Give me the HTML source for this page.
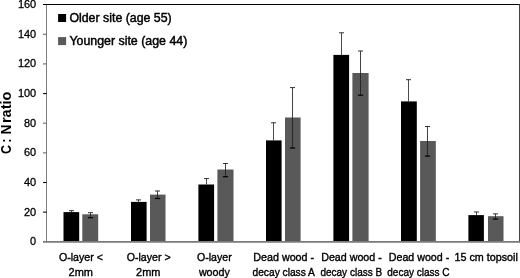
<!DOCTYPE html>
<html><head><meta charset="utf-8"><title>C : N ratio</title>
<style>
html,body{margin:0;padding:0;background:#fff;}
body{width:520px;height:278px;overflow:hidden;}
svg{display:block;font-family:"Liberation Sans",sans-serif;}
</style></head><body>
<svg width="520" height="278" viewBox="0 0 520 278">
<rect x="0" y="0" width="520" height="278" fill="#fff"/>

<rect x="63.5" y="212.1" width="15.7" height="29.7" fill="#000"/>
<rect x="82.3" y="214.3" width="15.9" height="27.5" fill="#595959"/>
<path d="M71.50 212.1 V210.5" stroke="#2b2b2b" stroke-width="0.85" fill="none"/><path d="M69.00 210.7 H74.00" stroke="#333" stroke-width="1" fill="none"/>
<path d="M90.50 217.7 V212.5" stroke="#202020" stroke-width="0.85" fill="none"/><path d="M88.00 212.7 H93.00" stroke="#333" stroke-width="1" fill="none"/><path d="M87.90 217.7 H93.10" stroke="#000" stroke-width="1.2" fill="none"/>
<rect x="131.0" y="201.9" width="15.6" height="39.9" fill="#000"/>
<rect x="150.0" y="194.6" width="15.5" height="47.2" fill="#595959"/>
<path d="M138.50 201.9 V199.7" stroke="#2b2b2b" stroke-width="0.85" fill="none"/><path d="M136.00 199.9 H141.00" stroke="#333" stroke-width="1" fill="none"/>
<path d="M157.50 198.5 V190.8" stroke="#202020" stroke-width="0.85" fill="none"/><path d="M155.00 191.0 H160.00" stroke="#333" stroke-width="1" fill="none"/><path d="M154.90 198.5 H160.10" stroke="#000" stroke-width="1.2" fill="none"/>
<rect x="198.4" y="184.5" width="15.7" height="57.3" fill="#000"/>
<rect x="217.4" y="169.5" width="16.1" height="72.3" fill="#595959"/>
<path d="M206.50 184.5 V178.4" stroke="#2b2b2b" stroke-width="0.85" fill="none"/><path d="M204.00 178.6 H209.00" stroke="#333" stroke-width="1" fill="none"/>
<path d="M225.50 176.7 V163.3" stroke="#202020" stroke-width="0.85" fill="none"/><path d="M223.00 163.5 H228.00" stroke="#333" stroke-width="1" fill="none"/><path d="M222.90 176.7 H228.10" stroke="#000" stroke-width="1.2" fill="none"/>
<rect x="266.0" y="140.4" width="15.6" height="101.4" fill="#000"/>
<rect x="285.0" y="117.5" width="15.6" height="124.3" fill="#595959"/>
<path d="M273.50 140.4 V122.6" stroke="#2b2b2b" stroke-width="0.85" fill="none"/><path d="M271.00 122.8 H276.00" stroke="#333" stroke-width="1" fill="none"/>
<path d="M292.50 148.0 V87.4" stroke="#202020" stroke-width="0.85" fill="none"/><path d="M290.00 87.6 H295.00" stroke="#333" stroke-width="1" fill="none"/><path d="M289.90 148.0 H295.10" stroke="#000" stroke-width="1.2" fill="none"/>
<rect x="333.4" y="54.9" width="15.7" height="186.9" fill="#000"/>
<rect x="352.4" y="73.0" width="16.2" height="168.8" fill="#595959"/>
<path d="M341.50 54.9 V32.6" stroke="#2b2b2b" stroke-width="0.85" fill="none"/><path d="M339.00 32.8 H344.00" stroke="#333" stroke-width="1" fill="none"/>
<path d="M360.50 95.2 V50.8" stroke="#202020" stroke-width="0.85" fill="none"/><path d="M358.00 51.0 H363.00" stroke="#333" stroke-width="1" fill="none"/><path d="M357.90 95.2 H363.10" stroke="#000" stroke-width="1.2" fill="none"/>
<rect x="401.0" y="101.4" width="15.8" height="140.4" fill="#000"/>
<rect x="420.1" y="141.0" width="15.7" height="100.8" fill="#595959"/>
<path d="M408.50 101.4 V79.5" stroke="#2b2b2b" stroke-width="0.85" fill="none"/><path d="M406.00 79.7 H411.00" stroke="#333" stroke-width="1" fill="none"/>
<path d="M427.50 156.1 V126.3" stroke="#202020" stroke-width="0.85" fill="none"/><path d="M425.00 126.5 H430.00" stroke="#333" stroke-width="1" fill="none"/><path d="M424.90 156.1 H430.10" stroke="#000" stroke-width="1.2" fill="none"/>
<rect x="468.4" y="215.1" width="15.5" height="26.7" fill="#000"/>
<rect x="488.0" y="216.2" width="15.5" height="25.6" fill="#595959"/>
<path d="M476.50 215.1 V211.8" stroke="#2b2b2b" stroke-width="0.85" fill="none"/><path d="M474.00 212.0 H479.00" stroke="#333" stroke-width="1" fill="none"/>
<path d="M495.50 219.1 V213.7" stroke="#202020" stroke-width="0.85" fill="none"/><path d="M493.00 213.9 H498.00" stroke="#333" stroke-width="1" fill="none"/><path d="M492.90 219.1 H498.10" stroke="#000" stroke-width="1.2" fill="none"/>
<path d="M43 4.5 H520" stroke="#000" stroke-width="1.1" fill="none"/>
<path d="M519.6 4 V242.5" stroke="#3a3a3a" stroke-width="1.1" fill="none"/>
<path d="M46.5 5 V241.8" stroke="#808080" stroke-width="1" fill="none"/>
<path d="M43 241.8 H520" stroke="#7a7a7a" stroke-width="1.7" fill="none"/>
<path d="M43 212.15 H46.9" stroke="#111" stroke-width="1.1" fill="none"/>
<path d="M43 182.50 H46.9" stroke="#111" stroke-width="1.1" fill="none"/>
<path d="M43 152.85 H46.9" stroke="#6a6a6a" stroke-width="1.1" fill="none"/>
<path d="M43 123.20 H46.9" stroke="#6a6a6a" stroke-width="1.1" fill="none"/>
<path d="M43 93.55 H46.9" stroke="#111" stroke-width="1.1" fill="none"/>
<path d="M43 63.90 H46.9" stroke="#6a6a6a" stroke-width="1.1" fill="none"/>
<path d="M43 34.25 H46.9" stroke="#6a6a6a" stroke-width="1.1" fill="none"/>
<text x="36.2" y="245.25" font-size="11.3px" stroke="#000" stroke-width="0.3" text-anchor="end" textLength="6.1" lengthAdjust="spacingAndGlyphs" fill="#000">0</text>
<text x="36.2" y="215.60" font-size="11.3px" stroke="#000" stroke-width="0.3" text-anchor="end" textLength="12.2" lengthAdjust="spacingAndGlyphs" fill="#000">20</text>
<text x="36.2" y="185.95" font-size="11.3px" stroke="#000" stroke-width="0.3" text-anchor="end" textLength="12.2" lengthAdjust="spacingAndGlyphs" fill="#000">40</text>
<text x="36.2" y="156.30" font-size="11.3px" stroke="#000" stroke-width="0.3" text-anchor="end" textLength="12.2" lengthAdjust="spacingAndGlyphs" fill="#000">60</text>
<text x="36.2" y="126.65" font-size="11.3px" stroke="#000" stroke-width="0.3" text-anchor="end" textLength="12.2" lengthAdjust="spacingAndGlyphs" fill="#000">80</text>
<text x="36.2" y="97.00" font-size="11.3px" stroke="#000" stroke-width="0.3" text-anchor="end" textLength="18.3" lengthAdjust="spacingAndGlyphs" fill="#000">100</text>
<text x="36.2" y="67.35" font-size="11.3px" stroke="#000" stroke-width="0.3" text-anchor="end" textLength="18.3" lengthAdjust="spacingAndGlyphs" fill="#000">120</text>
<text x="36.2" y="37.70" font-size="11.3px" stroke="#000" stroke-width="0.3" text-anchor="end" textLength="18.3" lengthAdjust="spacingAndGlyphs" fill="#000">140</text>
<text x="36.2" y="8.05" font-size="11.3px" stroke="#000" stroke-width="0.3" text-anchor="end" textLength="18.3" lengthAdjust="spacingAndGlyphs" fill="#000">160</text>
<text transform="translate(11.3 153.4) rotate(-90)" y="0" font-size="14px" font-weight="bold" fill="#000"><tspan x="-0.6" textLength="9.0" lengthAdjust="spacingAndGlyphs">C</tspan> <tspan x="10.6" textLength="4.4" lengthAdjust="spacingAndGlyphs">:</tspan> <tspan x="18.9" textLength="9.8" lengthAdjust="spacingAndGlyphs">N</tspan> <tspan x="30.3" textLength="31.5" lengthAdjust="spacingAndGlyphs">ratio</tspan></text>
<rect x="58.1" y="14" width="8" height="8" fill="#000"/>
<rect x="58.1" y="37.1" width="8" height="8" fill="#595959"/>
<text x="69.4" y="21.6" font-size="12.4px" stroke="#000" stroke-width="0.45" textLength="102.3" lengthAdjust="spacingAndGlyphs" fill="#000">Older site (age 55)</text>
<text x="69.4" y="45.0" font-size="12.4px" stroke="#000" stroke-width="0.45" textLength="117.9" lengthAdjust="spacingAndGlyphs" fill="#000">Younger site (age 44)</text>
<text x="58.9" y="261.25" font-size="11.4px" stroke="#000" stroke-width="0.38" textLength="44.1" lengthAdjust="spacingAndGlyphs" fill="#000">O-layer &lt;</text>
<text x="68.6" y="275.8" font-size="11.4px" stroke="#000" stroke-width="0.38" textLength="24.4" lengthAdjust="spacingAndGlyphs" fill="#000">2mm</text>
<text x="126.7" y="261.25" font-size="11.4px" stroke="#000" stroke-width="0.38" textLength="43.9" lengthAdjust="spacingAndGlyphs" fill="#000">O-layer &gt;</text>
<text x="136.1" y="275.8" font-size="11.4px" stroke="#000" stroke-width="0.38" textLength="24.3" lengthAdjust="spacingAndGlyphs" fill="#000">2mm</text>
<text x="197.0" y="261.25" font-size="11.4px" stroke="#000" stroke-width="0.38" textLength="34.7" lengthAdjust="spacingAndGlyphs" fill="#000">O-layer</text>
<text x="198.9" y="275.8" font-size="11.4px" stroke="#000" stroke-width="0.38" textLength="30.9" lengthAdjust="spacingAndGlyphs" fill="#000">woody</text>
<text x="253.3" y="261.25" font-size="11.4px" stroke="#000" stroke-width="0.38" textLength="60.8" lengthAdjust="spacingAndGlyphs" fill="#000">Dead wood -</text>
<text x="252.5" y="275.8" font-size="11.4px" stroke="#000" stroke-width="0.38" textLength="62.4" lengthAdjust="spacingAndGlyphs" fill="#000">decay class A</text>
<text x="321.2" y="261.25" font-size="11.4px" stroke="#000" stroke-width="0.38" textLength="60.6" lengthAdjust="spacingAndGlyphs" fill="#000">Dead wood -</text>
<text x="320.4" y="275.8" font-size="11.4px" stroke="#000" stroke-width="0.38" textLength="61.8" lengthAdjust="spacingAndGlyphs" fill="#000">decay class B</text>
<text x="388.8" y="261.25" font-size="11.4px" stroke="#000" stroke-width="0.38" textLength="60.4" lengthAdjust="spacingAndGlyphs" fill="#000">Dead wood -</text>
<text x="387.3" y="275.8" font-size="11.4px" stroke="#000" stroke-width="0.38" textLength="62.3" lengthAdjust="spacingAndGlyphs" fill="#000">decay class C</text>
<text x="454.5" y="261.25" font-size="11.4px" stroke="#000" stroke-width="0.38" textLength="63.3" lengthAdjust="spacingAndGlyphs" fill="#000">15 cm topsoil</text>
</svg>
</body></html>
